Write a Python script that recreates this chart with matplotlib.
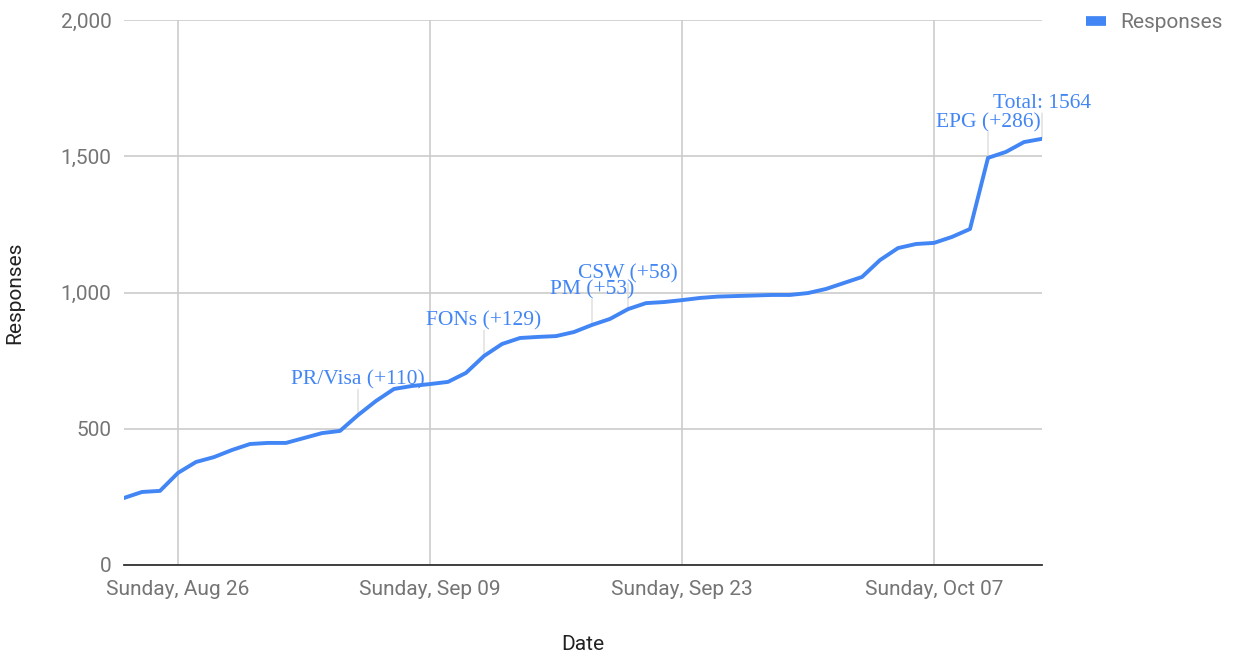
import matplotlib
matplotlib.use("Agg")
import matplotlib.pyplot as plt
import matplotlib.dates as mdates
import numpy as np
import datetime as dt

# -------------------------------
# DATA
# -------------------------------
start_date = dt.date(2018, 8, 23)
responses = [
    246, 268, 272, 338, 378, 396, 422, 444, 448, 448,
    466, 484, 492, 550, 602, 646, 657, 664, 672, 705,
    767, 811, 833, 837, 840, 855, 881, 903, 939, 961,
    965, 972, 980, 985, 987, 989, 991, 991, 998, 1013,
    1035, 1057, 1119, 1163, 1178, 1182, 1204, 1233, 1494, 1516,
    1552, 1564,
]
dates = [start_date + dt.timedelta(days=i) for i in range(len(responses))]

tick_dates = [dt.date(2018, 8, 26), dt.date(2018, 9, 9),
              dt.date(2018, 9, 23), dt.date(2018, 10, 7)]
tick_labels = ["Sunday, Aug 26", "Sunday, Sep 09", "Sunday, Sep 23", "Sunday, Oct 07"]

note_dates = [dt.date(2018, 9, 5), dt.date(2018, 9, 12), dt.date(2018, 9, 18),
              dt.date(2018, 9, 20), dt.date(2018, 10, 10), dt.date(2018, 10, 13)]
note_texts = ["PR/Visa (+110)", "FONs (+129)", "PM (+53)",
              "CSW (+58)", "EPG (+286)", "Total: 1564"]

y_ticks = [0, 500, 1000, 1500, 2000]

# -------------------------------
# STYLE
# -------------------------------
blue = "#4285f4"
grey_text = "#757575"
grid_col = "#cccccc"
plt.rcParams["font.family"] = ["Roboto", "DejaVu Sans"]

fig = plt.figure(figsize=(12.33, 6.54), dpi=100)
ax = fig.add_axes([124 / 1233, 1 - 565 / 654, (1042 - 124) / 1233, (565 - 20) / 654])

ax.plot(dates, responses, color=blue, lw=2.8, solid_joinstyle="round",
        label="Responses", zorder=3)

ax.set_xlim(dates[0], dates[-1])
ax.set_ylim(0, 2000)
ax.set_yticks(y_ticks)
ax.set_yticklabels([f"{v:,}" for v in y_ticks])
ax.set_xticks([mdates.date2num(d) for d in tick_dates])
ax.set_xticklabels(tick_labels)

ax.grid(True, color=grid_col, lw=1.2, zorder=0)
for s in ["top", "right", "left"]:
    ax.spines[s].set_visible(False)
ax.spines["bottom"].set_color("#333333")
ax.spines["bottom"].set_linewidth(1.3)
ax.spines["bottom"].set_zorder(2)
ax.tick_params(length=0, labelsize=15, colors=grey_text)
ax.tick_params(axis="y", pad=9)
ax.tick_params(axis="x", pad=11)

ax.set_xlabel("Date", fontsize=15, color="#222222", labelpad=26)
ax.set_ylabel("Responses", fontsize=15, color="#222222", labelpad=26)

# -------------------------------
# ANNOTATIONS
# -------------------------------
for d, txt in zip(note_dates, note_texts):
    val = responses[dates.index(d)]
    xd = mdates.date2num(d)
    ax.annotate("", xy=(xd, val), xytext=(0, 18.5), textcoords="offset points",
                arrowprops=dict(arrowstyle="-", color="#dddddd", lw=1, shrinkA=0, shrinkB=0),
                zorder=2)
    ax.annotate(txt, xy=(xd, val), xytext=(0, 25.5), textcoords="offset points",
                ha="center", va="center", color=blue, fontsize=15.5,
                family=["Liberation Serif", "DejaVu Serif"], zorder=4)

leg = ax.legend(loc="upper left", bbox_to_anchor=(1.027, 1.0475), frameon=False,
                fontsize=15, handlelength=1.0, handletextpad=0.67)
for line in leg.get_lines():
    line.set_linewidth(7)
    line.set_solid_capstyle("butt")
for t in leg.get_texts():
    t.set_color(grey_text)

fig.savefig("out.png", dpi=100)
